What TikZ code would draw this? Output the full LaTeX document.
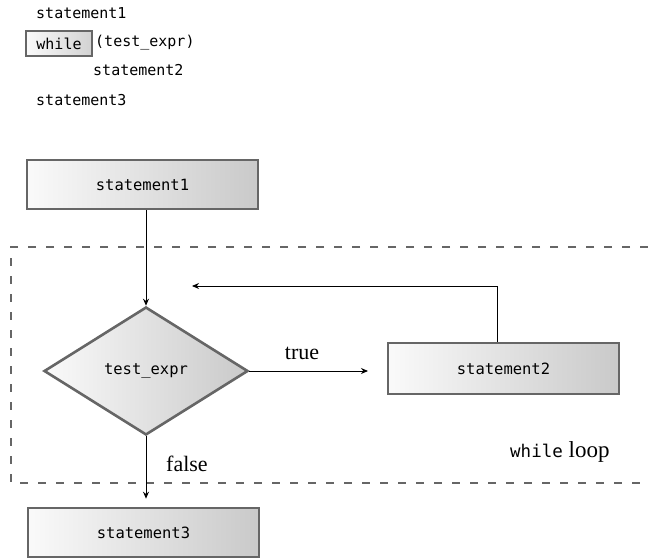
\documentclass[tikz,border=0pt]{standalone}
\usepackage{fontspec}
\setmainfont{Liberation Serif}
\newfontfamily\codefont{DejaVu Sans Mono}
\usetikzlibrary{shapes.geometric,arrows.meta}
\definecolor{boxborder}{HTML}{666666}
\definecolor{dashgray}{HTML}{666666}
\tikzset{
  codetext/.style={font=\codefont\fontsize{15}{18}\selectfont, inner sep=0pt, text height=11pt, text depth=3pt},
  serlabel/.style={font=\fontsize{22}{26}\selectfont, inner sep=0pt},
  stepbox/.style={draw=boxborder, line width=2.6pt, shading=axis, left color=gray!4, right color=gray!42,
    minimum width=231pt, minimum height=49pt, inner sep=0pt, font=\codefont\fontsize{15.5}{18}\selectfont},
  decbox/.style={shape=diamond, draw=boxborder, line width=2.6pt, shading=axis, left color=gray!4, right color=gray!42,
    minimum width=204pt, minimum height=128pt, inner sep=0pt, font=\codefont\fontsize{15.5}{18}\selectfont},
  kwbox/.style={draw=boxborder, line width=2.4pt, shading=axis, left color=gray!4, right color=gray!35,
    minimum width=66pt, minimum height=25pt, inner sep=0pt, font=\codefont\fontsize{15}{18}\selectfont},
  conn/.style={draw=black, line width=1pt, -{Stealth[length=7pt,width=6pt]}},
  region/.style={draw=dashgray, line width=2.6pt, dash pattern=on 8pt off 10pt}
}
\begin{document}
\begin{tikzpicture}[x=1pt,y=-1pt]
\useasboundingbox (0,0) rectangle (648,559);
% code listing
\node[codetext, anchor=west] (c1) at (36,15) {statement1};
\node[kwbox] (kw) at (59,43.5) {while};
\node[codetext, anchor=west] (c2) at (95,43) {(test\_expr)};
\node[codetext, anchor=west] (c3) at (93,72) {statement2};
\node[codetext, anchor=west] (c4) at (36,102) {statement3};
% dashed loop region
\draw[region] (648,247) -- (11,247) -- (11,483) -- (648,483);
% flowchart
\node[stepbox] (s1) at (142.5,184.5) {statement1};
\node[decbox] (d) at (146,371) {test\_expr};
\node[stepbox, minimum height=51pt] (s2) at (503.5,368.5) {statement2};
\node[stepbox] (s3) at (143.5,532.5) {statement3};
\coordinate (tip) at (368,371);
\coordinate (up) at (497,286);
\coordinate (back) at (192,286);
\draw[conn] (d.north |- s1.south) -- (d.north);
\draw[conn] (d.east) -- (tip);
\draw[conn] (s2.north -| up) -- (up) -- (back);
\draw[conn, shorten >=8pt] (d.south) -- (d.south |- s3.north);
% labels
\node[serlabel] (lt) at (302,353) {true};
\node[serlabel, anchor=west] (lf) at (166,464) {false};
\node[anchor=west, inner sep=0pt, font=\fontsize{23}{26}\selectfont] (lw) at (510,452) {{\codefont\fontsize{17.5}{20}\selectfont while} loop};
\end{tikzpicture}
\end{document}
